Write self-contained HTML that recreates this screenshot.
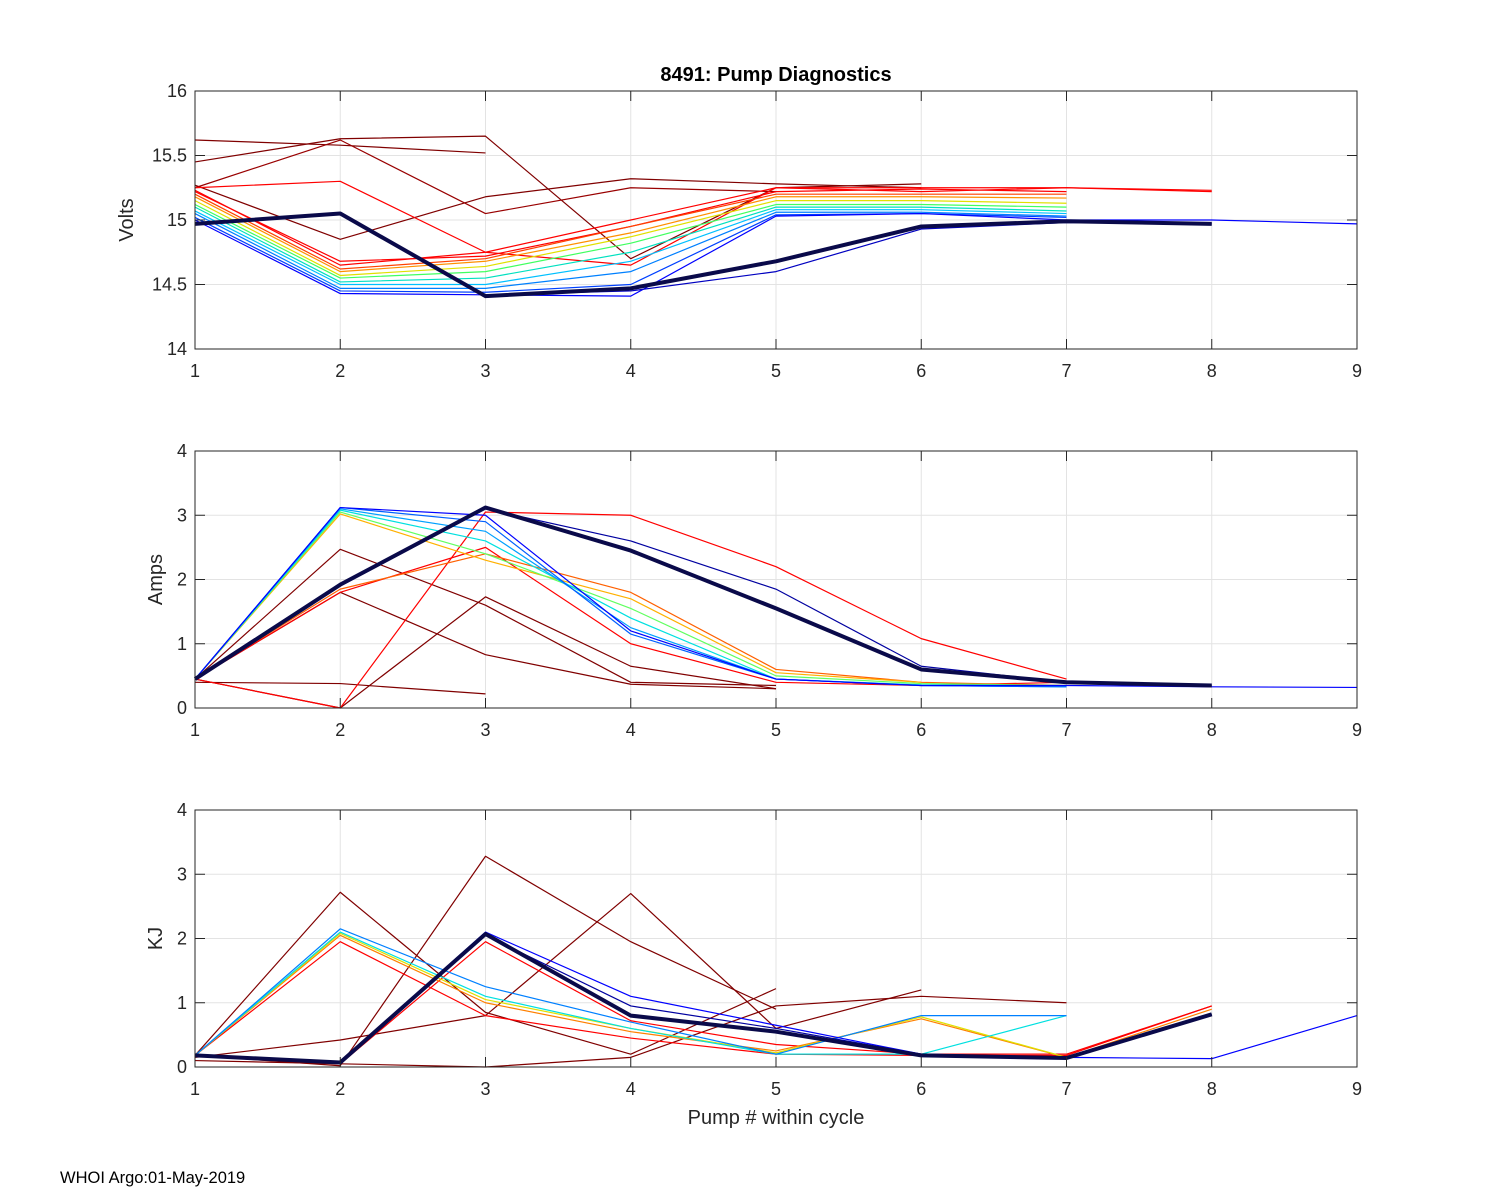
<!DOCTYPE html>
<html><head><meta charset="utf-8">
<style>
html,body{margin:0;padding:0;background:#fff;}
svg{display:block;font-family:"Liberation Sans",Arial,sans-serif;}
</style></head>
<body>
<svg id="fig" width="1500" height="1200" viewBox="0 0 1500 1200">
<rect width="1500" height="1200" fill="#fff"/>
<text x="776" y="81" font-size="20" font-weight="bold" text-anchor="middle" fill="#000">8491: Pump Diagnostics</text>
<text x="776" y="1124" font-size="20" text-anchor="middle" fill="#262626">Pump # within cycle</text>
<text x="60" y="1183" font-size="16.5" fill="#000">WHOI Argo:01-May-2019</text>
</svg>
<script>
// ---- data ----
const xTicks = [1,2,3,4,5,6,7,8,9];
const voltTicks = [14,14.5,15,15.5,16];
const ampTicks = [0,1,2,3,4];
const kjTicks = [0,1,2,3,4];

const voltColors = ["#800000","#800000","#800000","#990000","#ff0000","#ff0000","#ff0000","#ff4000","#ff9000","#e0e000","#40ff60","#00e0c0","#00c0ff","#0080ff","#0040ff","#0000ff","#0000c0"];
const voltSeries = [
 [15.62,15.58,15.52],
 [15.45,15.63,15.65,14.7,15.25,15.28],
 [15.27,14.85,15.18,15.32,15.28,15.25],
 [15.25,15.62,15.05,15.25,15.22],
 [15.25,15.3,14.75,14.65,15.25,15.25,15.25,15.23],
 [15.23,14.65,14.75,15.0,15.25,15.22,15.25,15.22],
 [15.22,14.68,14.72,14.95,15.22,15.24,15.22],
 [15.2,14.62,14.7,14.95,15.2,15.2,15.2],
 [15.18,14.6,14.68,14.9,15.18,15.18,15.17],
 [15.15,14.57,14.64,14.87,15.15,15.15,15.13],
 [15.12,14.55,14.6,14.82,15.12,15.12,15.1],
 [15.1,14.52,14.55,14.75,15.1,15.1,15.07],
 [15.07,14.5,14.5,14.68,15.08,15.08,15.05],
 [15.05,14.47,14.47,14.6,15.06,15.06,15.03],
 [15.02,14.45,14.44,14.5,15.04,15.05,15.02],
 [15.0,14.43,14.42,14.41,15.03,15.05,15.0,15.0,14.97],
 [14.98,15.05,14.42,14.45,14.6,14.93,14.98,14.97]
];
const voltBold = [14.97,15.05,14.41,14.47,14.68,14.95,14.99,14.97];

const ampColors = ["#800000","#800000","#800000","#800000","#ff0000","#ff0000","#ff6000","#ffb000","#60ff60","#00e0e0","#00a0ff","#0060ff","#0000ff","#0000a0"];
const ampSeries = [
 [0.45,2.47,1.6,0.4,0.35],
 [0.4,0.38,0.22],
 [0.45,0,1.73,0.65,0.3],
 [0.45,1.8,0.83,0.37,0.3],
 [0.45,0,3.05,3.0,2.2,1.08,0.45],
 [0.45,1.8,2.5,1.0,0.4,0.35,0.4,0.33],
 [0.45,1.85,2.4,1.8,0.6,0.4,0.35],
 [0.45,3.02,2.3,1.7,0.55,0.4],
 [0.45,3.05,2.4,1.55,0.5,0.38,0.35],
 [0.45,3.08,2.6,1.4,0.45,0.36,0.34],
 [0.45,3.1,2.75,1.25,0.45,0.35,0.33],
 [0.45,3.12,2.9,1.15,0.45,0.35,0.33],
 [0.45,3.12,3.0,1.2,0.45,0.35,0.35,0.33,0.32],
 [0.45,1.9,3.1,2.6,1.85,0.65,0.4,0.35]
];
const ampBold = [0.45,1.92,3.12,2.45,1.55,0.6,0.4,0.35];

const kjColors = ["#800000","#800000","#800000","#800000","#ff0000","#ff0000","#ff8000","#e0e000","#00e0e0","#0080ff","#0000ff","#0000a0"];
const kjSeries = [
 [0.18,2.72,0.85,0.2,1.22],
 [0.18,0.02,3.28,1.95,0.9],
 [0.15,0.42,0.8,2.7,0.6,1.2],
 [0.1,0.05,0,0.15,0.95,1.1,1.0],
 [0.18,1.95,0.8,0.45,0.2,0.18,0.18,0.95],
 [0.18,0.05,1.95,0.72,0.35,0.2,0.2,0.95],
 [0.18,2.05,1.0,0.55,0.25,0.75,0.15,0.9],
 [0.18,2.08,1.05,0.6,0.22,0.78,0.15,0.8],
 [0.18,2.1,1.1,0.6,0.2,0.2,0.8],
 [0.18,2.15,1.25,0.7,0.2,0.8,0.8],
 [0.18,0.08,2.1,1.1,0.65,0.2,0.15,0.13,0.8],
 [0.18,0.07,2.05,0.95,0.6,0.2,0.15,0.82]
];
const kjBold = [0.18,0.07,2.07,0.8,0.55,0.18,0.14,0.82];

// ---- layout ----
const NS = "http://www.w3.org/2000/svg";
const svg = document.getElementById('fig');
const X0 = 195, X1 = 1357;
function xs(v){ return X0 + (v-1)/(8)*(X1-X0); }
function mk(tag, attrs, parent){ const e=document.createElementNS(NS,tag); for(const k in attrs) e.setAttribute(k,attrs[k]); (parent||svg).appendChild(e); return e; }

function panel(name, top, bottom, ymin, ymax, yticks, ylabel, ylabelX, series, colors, bold){
  const ys = v => bottom - (v-ymin)/(ymax-ymin)*(bottom-top);
  const g = mk('g',{});
  
  
  mk('rect',{x:X0,y:top,width:X1-X0,height:bottom-top,fill:'#fff'},g);
  const grid = mk('g',{stroke:'#e3e3e3','stroke-width':1},g);
  
  
  xTicks.forEach(t=>mk('line',{x1:xs(t),x2:xs(t),y1:top,y2:bottom},grid));
  yticks.forEach(t=>mk('line',{x1:X0,x2:X1,y1:ys(t),y2:ys(t)},grid));
  const lines = mk('g',{fill:'none','stroke-linejoin':'round'},g);
  series.forEach((s,i)=>{
    const p = mk('polyline',{points:s.map((v,j)=>xs(j+1)+','+ys(v)).join(' '),stroke:colors[i],'stroke-width':1.2},lines);
    
    
  });
  const b = mk('polyline',{points:bold.map((v,j)=>xs(j+1)+','+ys(v)).join(' '),stroke:'#0a0a4a','stroke-width':4},lines);
  
  
  mk('rect',{x:X0,y:top,width:X1-X0,height:bottom-top,fill:'none',stroke:'#262626','stroke-width':1},g);
  const ax = mk('g',{stroke:'#262626','stroke-width':1},g);
  xTicks.forEach(t=>{mk('line',{x1:xs(t),x2:xs(t),y1:bottom,y2:bottom-10},ax); mk('line',{x1:xs(t),x2:xs(t),y1:top,y2:top+10},ax);});
  yticks.forEach(t=>{mk('line',{x1:X0,x2:X0+10,y1:ys(t),y2:ys(t)},ax); mk('line',{x1:X1,x2:X1-10,y1:ys(t),y2:ys(t)},ax);});
  xTicks.forEach(t=>{
    const tx = mk('text',{x:xs(t),y:bottom+28,'font-size':18,'text-anchor':'middle',fill:'#262626'},g);
    tx.textContent = t;
    
    
  });
  yticks.forEach(t=>{
    const tx = mk('text',{x:X0-8,y:ys(t)+6,'font-size':18,'text-anchor':'end',fill:'#262626'},g);
    tx.textContent = t;
    
    
  });
  const yl = mk('text',{x:ylabelX,y:(top+bottom)/2,'font-size':20,'text-anchor':'middle',fill:'#262626',transform:'rotate(-90 '+ylabelX+' '+((top+bottom)/2)+')'},g);
  yl.textContent = ylabel;
  
  
}
panel('volts',91,349,14,16,voltTicks,'Volts',133,voltSeries,voltColors,voltBold);
panel('amps',451,708,0,4,ampTicks,'Amps',162,ampSeries,ampColors,ampBold);
panel('kj',810,1067,0,4,kjTicks,'KJ',162,kjSeries,kjColors,kjBold);
</script>
</body></html>
